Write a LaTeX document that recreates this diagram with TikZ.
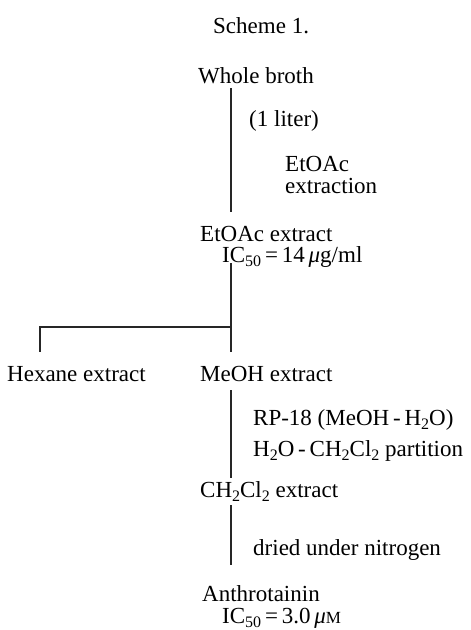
\documentclass[tikz,border=0pt]{standalone}
\usepackage{fontspec}
\setmainfont{Liberation Serif}
\newcommand\mysub[1]{\raisebox{-4.5pt}{\fontsize{16}{16}\selectfont #1}}
\begin{document}
\begin{tikzpicture}[x=1pt,y=-1pt,
  lbl/.style={anchor=base west,inner sep=0pt,font=\fontsize{23}{27}\selectfont},
  conn/.style={line width=1.1pt,black!85}]
\useasboundingbox (0,0) rectangle (471,630);
\node[lbl] (title) at (213,33) {Scheme 1.};
\node[lbl] (whole) at (198,83) {Whole broth};
\node[lbl] (liter) at (249,126) {(1 liter)};
\node[lbl] (etoac1) at (285,171) {EtOAc};
\node[lbl] (extr) at (285,193) {extraction};
\node[lbl] (etx) at (200,241) {EtOAc extract};
\node[lbl] (ic1) at (222,262) {IC\mysub{50}\,=\,14\,\textit{μ}g/ml};
\node[lbl] (hex) at (7,381) {Hexane extract};
\node[lbl] (meoh) at (200,381) {MeOH extract};
\node[lbl] (rp) at (253,425) {RP-18 (MeOH\,-\,H\mysub{2}O)};
\node[lbl] (part) at (253,456) {H\mysub{2}O\,-\,CH\mysub{2}Cl\mysub{2} partition};
\node[lbl] (chx) at (200,497) {CH\mysub{2}Cl\mysub{2} extract};
\node[lbl] (dried) at (253,555) {dried under nitrogen};
\node[lbl] (anth) at (202,601) {Anthrotainin};
\node[lbl] (ic2) at (222,623) {IC\mysub{50}\,=\,3.0\,\textit{μ}{\fontsize{17}{17}\selectfont M}};
\coordinate (a1) at (231,88);
\coordinate (a2) at (231,212);
\coordinate (b1) at (231,263);
\coordinate (j) at (231,327);
\coordinate (b2) at (231,352);
\coordinate (h1) at (40,327);
\coordinate (h2) at (40,352);
\coordinate (c1) at (231,390);
\coordinate (c2) at (231,478);
\coordinate (d1) at (231,505);
\coordinate (d2) at (231,565);
\draw[conn] (a1) -- (a2);
\draw[conn] (b1) -- (b2);
\draw[conn] (j) -- (h1) -- (h2);
\draw[conn] (c1) -- (c2);
\draw[conn] (d1) -- (d2);
\end{tikzpicture}
\end{document}
